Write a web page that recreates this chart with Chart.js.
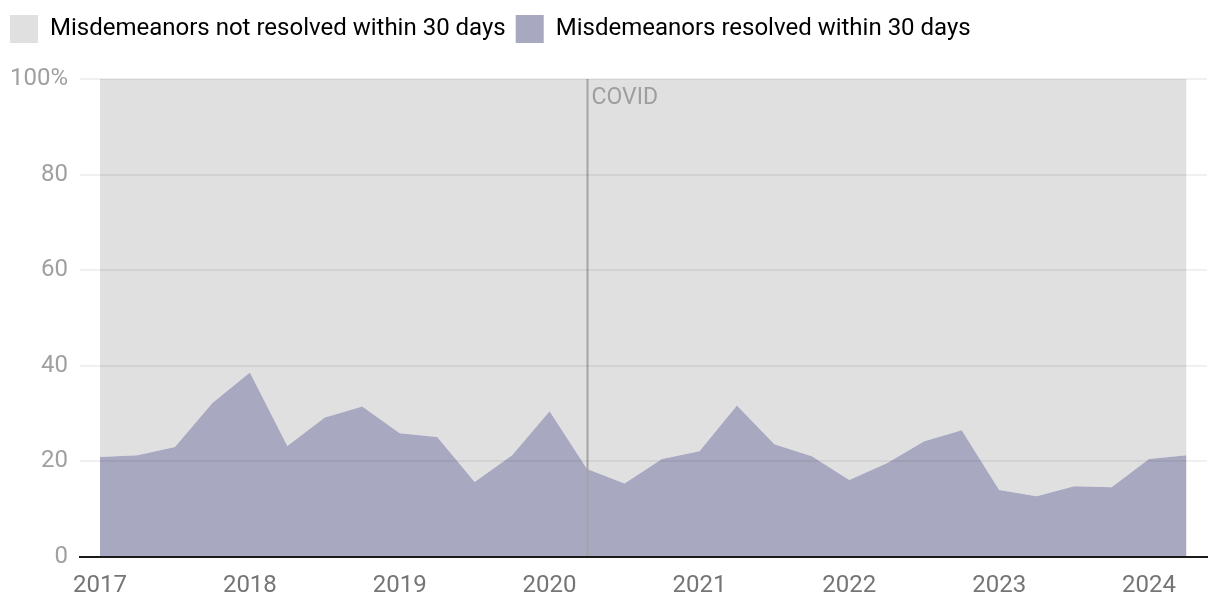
<!DOCTYPE html>
<html>
<head>
<meta charset="utf-8">
<script src="https://cdn.jsdelivr.net/npm/chart.js@4"></script>
<style>
  html, body { margin: 0; padding: 0; background: #fff; }
  #wrap { width: 1220px; height: 608px; position: relative; }
</style>
</head>
<body>
<div id="wrap"><canvas id="chart" width="1220" height="608"></canvas></div>
<script>
// quarterly, 2017 Q1 .. 2024 Q2
const quarters = [
  '2017 Q1', '2017 Q2', '2017 Q3', '2017 Q4',
  '2018 Q1', '2018 Q2', '2018 Q3', '2018 Q4',
  '2019 Q1', '2019 Q2', '2019 Q3', '2019 Q4',
  '2020 Q1', '2020 Q2', '2020 Q3', '2020 Q4',
  '2021 Q1', '2021 Q2', '2021 Q3', '2021 Q4',
  '2022 Q1', '2022 Q2', '2022 Q3', '2022 Q4',
  '2023 Q1', '2023 Q2', '2023 Q3', '2023 Q4',
  '2024 Q1', '2024 Q2',
];
// % resolved within 30 days
const resolved = [
  20.9, 21.3, 23.0, 32.2,
  38.6, 23.2, 29.2, 31.5,
  25.9, 25.1, 15.7, 21.3,
  30.5, 18.4, 15.4, 20.5,
  22.1, 31.7, 23.6, 21.1,
  16.1, 19.6, 24.2, 26.5,
  14.0, 12.7, 14.8, 14.6,
  20.5, 21.3,
];
// the rest, up to 100%
const notResolved = resolved.map((v) => 100 - v);
const yearLabels = ['2017', '2018', '2019', '2020', '2021', '2022', '2023', '2024'];
const yTicks = [0, 20, 40, 60, 80, 100];
const covidQuarter = '2020 Q2';

const toPoints = (arr) => arr.map((v, i) => ({ x: i, y: v }));

//covid marker
const covidLine = {
  id: 'covidLine',
  afterDatasetsDraw(chart) {
    const { ctx, scales } = chart;
    const x = Math.round(scales.x.getPixelForValue(quarters.indexOf(covidQuarter))) + 0.5;
    const top = scales.y.getPixelForValue(100);
    const bottom = scales.y.getPixelForValue(0);
    ctx.save();
    ctx.strokeStyle = '#a4a4a4';
    ctx.lineWidth = 2;
    ctx.beginPath();
    ctx.moveTo(x, top);
    ctx.lineTo(x, bottom);
    ctx.stroke();
    ctx.fillStyle = '#9e9e9e';
    ctx.font = '23px Roboto';
    ctx.textBaseline = 'top';
    ctx.fillText('COVID', x + 4, top + 8);
    ctx.restore();
  },
};

//extra room under the legend
const legendSpace = {
  id: 'legendSpace',
  beforeInit(chart) {
    const fit = chart.legend.fit;
    chart.legend.fit = function () {
      fit.bind(chart.legend)();
      this.height += 26;
    };
  },
};

new Chart(document.getElementById('chart'), {
  type: 'line',
  data: {
    datasets: [
      {
        label: 'Misdemeanors resolved within 30 days',
        data: toPoints(resolved),
        backgroundColor: '#a8a8c1',
        borderWidth: 0,
        pointRadius: 0,
        fill: 'origin',
      },
      {
        label: 'Misdemeanors not resolved within 30 days',
        data: toPoints(notResolved),
        backgroundColor: '#e0e0e0',
        borderWidth: 0,
        pointRadius: 0,
        fill: '-1',
      },
    ],
  },
  options: {
    responsive: false,
    animation: false,
    layout: { padding: { left: 0, right: 13, top: 5, bottom: 0 } },
    plugins: {
      tooltip: { enabled: false },
      legend: {
        position: 'top',
        align: 'start',
        reverse: true,
        labels: {
          boxWidth: 28,
          boxHeight: 28,
          padding: 10,
          color: '#222',
          font: { family: 'Roboto', size: 24 },
          generateLabels: (chart) =>
            chart.data.datasets.map((ds, i) => ({
              text: ds.label,
              fillStyle: ds.backgroundColor,
              strokeStyle: ds.backgroundColor,
              lineWidth: 0,
              datasetIndex: i,
            })),
        },
      },
    },
    scales: {
      x: {
        type: 'linear',
        min: -0.534,
        max: 29.547,
        afterBuildTicks: (scale) => {
          scale.ticks = yearLabels.map((y, i) => ({ value: i * 4 }));
        },
        afterFit: (scale) => {
          scale.height = 51;
        },
        ticks: {
          color: '#757575',
          font: { family: 'Roboto', size: 24 },
          padding: 7,
          maxRotation: 0,
          callback: (v) => yearLabels[v / 4],
        },
        grid: { display: false },
        border: { display: true, color: '#1a1a1a', width: 2, z: 2 },
      },
      y: {
        stacked: true,
        min: 0,
        max: 100,
        afterBuildTicks: (scale) => {
          scale.ticks = yTicks.map((v) => ({ value: v }));
        },
        afterFit: (scale) => {
          scale.width = 80;
        },
        ticks: {
          color: '#a0a0a0',
          font: { family: 'Roboto', size: 24 },
          padding: 12,
          callback: (v) => (v === 100 ? '100%' : v),
        },
        grid: { color: 'rgba(0,0,0,0.06)', lineWidth: 2, drawTicks: false, z: 1 },
        border: { display: false },
      },
    },
  },
  plugins: [covidLine, legendSpace],
});
</script>
</body>
</html>
